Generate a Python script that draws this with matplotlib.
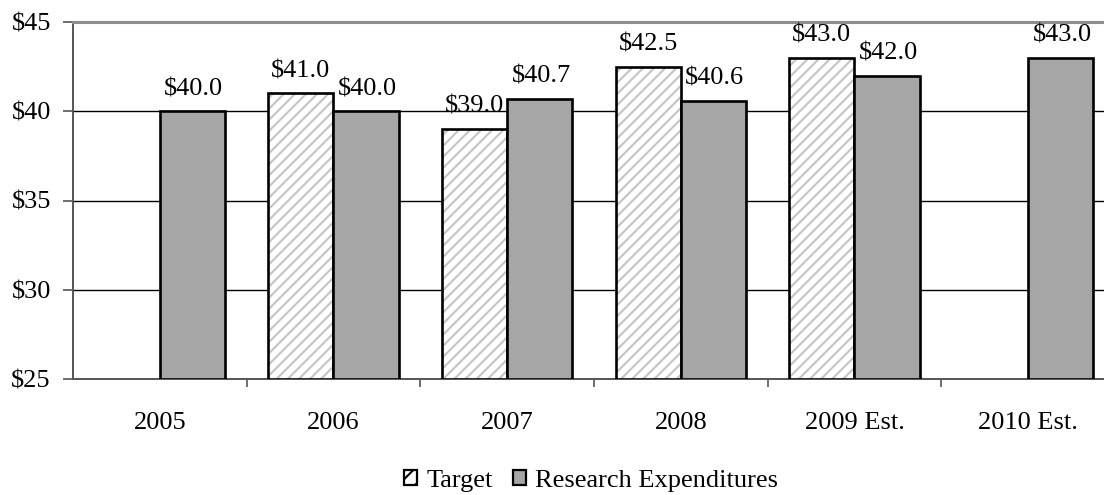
import matplotlib
matplotlib.use("Agg")
import matplotlib.pyplot as plt
import numpy as np
from matplotlib.patches import Patch

categories = ["2005", "2006", "2007", "2008", "2009 Est.", "2010 Est."]
target = [None, 41.0, 39.0, 42.5, 43.0, None]
research = [40.0, 40.0, 40.7, 40.6, 42.0, 43.0]
yticks = [25, 30, 35, 40, 45]

plt.rcParams['font.family'] = ['Liberation Serif', 'DejaVu Serif']
plt.rcParams['hatch.linewidth'] = 1.5

W, H = 1104, 495
fig = plt.figure(figsize=(W / 100, H / 100), dpi=100)
ax = fig.add_axes([73 / W, 1 - 379 / H, (1115 - 73) / W, (379 - 22) / H])

x = np.arange(len(categories))
bw = 0.375
fs = 19

tx = [xi - bw / 2 for xi, t in zip(x, target) if t is not None]
tv = [t for t in target if t is not None]

# hatch fill (gray lines), then black outline
ax.bar(tx, [v - 25 for v in tv], bw, bottom=25, color='white', hatch='///',
       edgecolor='#C4C4C4', linewidth=0, zorder=3)
ax.bar(tx, [v - 25 for v in tv], bw, bottom=25, fill=False,
       edgecolor='black', linewidth=1.9, zorder=4)
ax.bar(x + bw / 2, [v - 25 for v in research], bw, bottom=25, color='#A6A6A6',
       edgecolor='black', linewidth=1.9, zorder=4)

for xi, v in zip(tx, tv):
    ax.annotate(f"${v:.1f}", (xi, v), xytext=(0, 8), textcoords='offset points',
                ha='center', va='bottom', fontsize=fs)
for xi, v in zip(x + bw / 2, research):
    ax.annotate(f"${v:.1f}", (xi, v), xytext=(1, 8), textcoords='offset points',
                ha='center', va='bottom', fontsize=fs)

ax.set_xlim(-0.5, len(categories) - 0.5)
ax.set_ylim(25, 45)
ax.set_yticks(yticks)
ax.set_yticklabels([f"${t}" for t in yticks], fontsize=fs)
for t in [30, 35, 40]:
    ax.axhline(t, color='black', linewidth=1.0, zorder=1)

ax.set_xticks(x)
ax.set_xticklabels(categories, fontsize=fs)
ax.set_xticks(np.arange(0.5, len(categories) - 0.5, 1), minor=True)
ax.tick_params(axis='x', which='major', length=0, pad=24)
ax.tick_params(axis='x', which='minor', length=6, width=1.2, color='#555555', direction='out')
ax.tick_params(axis='y', length=7, width=1.2, color='#555555', pad=9, direction='out')

ax.spines['top'].set_color('#8C8C8C')
ax.spines['top'].set_linewidth(2.2)
ax.spines['left'].set_color('#555555')
ax.spines['left'].set_linewidth(1.4)
ax.spines['bottom'].set_color('#555555')
ax.spines['bottom'].set_linewidth(1.4)
ax.spines['right'].set_visible(False)

handles = [
    Patch(facecolor='white', edgecolor='black', hatch='//', linewidth=1.6, label='Target'),
    Patch(facecolor='#A6A6A6', edgecolor='black', linewidth=1.6, label='Research Expenditures'),
]
fig.legend(handles=handles, loc='center', bbox_to_anchor=(591 / W, 1 - 481 / H), ncol=2,
           frameon=False, fontsize=fs, handlelength=0.5, handleheight=0.5,
           handletextpad=0.35, columnspacing=0.75)

fig.savefig("out.png", dpi=100)
